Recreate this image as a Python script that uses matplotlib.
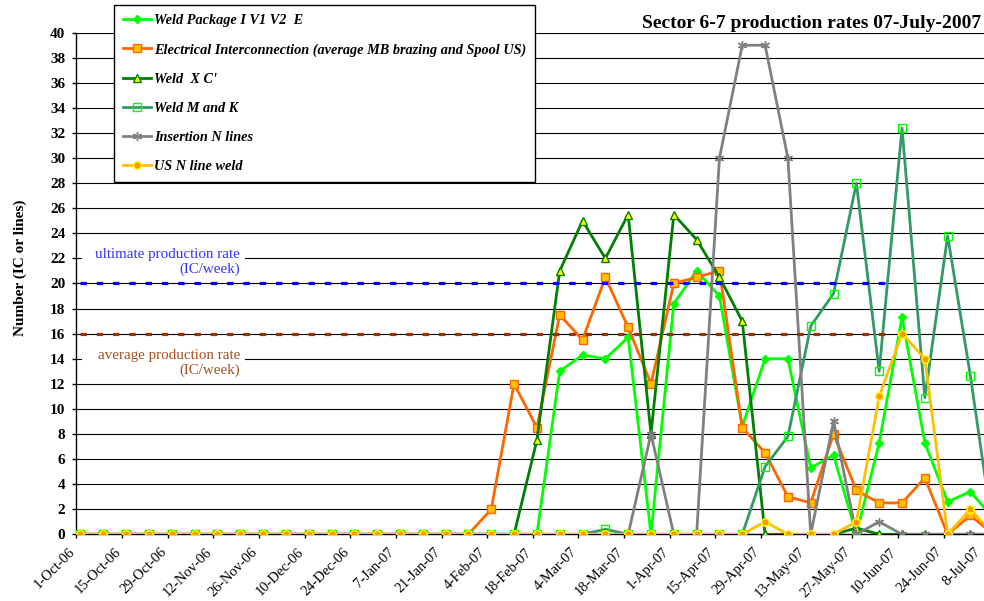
import matplotlib
matplotlib.use('Agg')
import matplotlib.pyplot as plt
import matplotlib.transforms as mtransforms
from matplotlib.patches import Rectangle

# ---------------- data ----------------
weeks = list(range(41))  # weekly points starting 1-Oct-06
tick_weeks = [0, 2, 4, 6, 8, 10, 12, 14, 16, 18, 20, 22, 24, 26, 28, 30, 32, 34, 36, 38, 40]
tick_labels = ['1-Oct-06', '15-Oct-06', '29-Oct-06', '12-Nov-06', '26-Nov-06', '10-Dec-06',
               '24-Dec-06', '7-Jan-07', '21-Jan-07', '4-Feb-07', '18-Feb-07', '4-Mar-07',
               '18-Mar-07', '1-Apr-07', '15-Apr-07', '29-Apr-07', '13-May-07', '27-May-07',
               '10-Jun-07', '24-Jun-07', '8-Jul-07']

weld_pkg = [0, 0, 0, 0, 0, 0, 0, 0, 0, 0, 0, 0, 0, 0, 0, 0, 0, 0, 0, 0, 0,
            13.0, 14.3, 14.0, 15.7, 0, 18.4, 21.0, 19.0, 8.6, 14.0, 14.0, 5.3, 6.3, 0,
            7.3, 17.3, 7.3, 2.6, 3.4, 1.3]
electrical = [0, 0, 0, 0, 0, 0, 0, 0, 0, 0, 0, 0, 0, 0, 0, 0, 0, 0,
              2, 12, 8.5, 17.5, 15.5, 20.5, 16.5, 12, 20, 20.5, 21, 8.5, 6.5, 3, 2.5, 8,
              3.5, 2.5, 2.5, 4.5, 0, 1.5, 0]
weld_xc = [0, 0, 0, 0, 0, 0, 0, 0, 0, 0, 0, 0, 0, 0, 0, 0, 0, 0, 0, 0,
           7.5, 21, 25, 22, 25.5, 8, 25.5, 23.5, 20.5, 17, 0, 0, 0, 0, 0.5, 0, 0, 0, 0, 0, 0]
weld_mk = [0, 0, 0, 0, 0, 0, 0, 0, 0, 0, 0, 0, 0, 0, 0, 0, 0, 0, 0, 0, 0, 0, 0,
           0.4, 0, 0, 0, 0, 0, 0, 5.4, 7.8, 16.6, 19.2, 28, 13, 32.4, 10.9, 23.8, 12.6, 0]
insertion = [0, 0, 0, 0, 0, 0, 0, 0, 0, 0, 0, 0, 0, 0, 0, 0, 0, 0, 0, 0, 0, 0, 0, 0, 0,
             8, 0, 0, 30, 39, 39, 30, 0, 9, 0, 1, 0, 0, 0, 0, 0]
us_n_weld = [0, 0, 0, 0, 0, 0, 0, 0, 0, 0, 0, 0, 0, 0, 0, 0, 0, 0, 0, 0, 0, 0, 0, 0, 0,
             0, 0, 0, 0, 0, 1, 0, 0, 0, 1, 11, 16, 14, 0, 2, 0]

ultimate_rate = 20
average_rate = 16

series_names = ['Weld Package I V1 V2  E',
                'Electrical Interconnection (average MB brazing and Spool US)',
                "Weld  X C'",
                'Weld M and K',
                'Insertion N lines',
                'US N line weld']

# ---------------- style ----------------
SERIF = 'Liberation Serif'
plt.rcParams['font.family'] = [SERIF, 'DejaVu Serif']

styles = [
    dict(color='#00FF00', marker='D', mfc='#00FF00', mec='#00FF00', ms=4.5),
    dict(color='#FF6600', marker='s', mfc='#FFC000', mec='#FF6600', ms=5.5),
    dict(color='#008000', marker='^', mfc='#FFFF00', mec='#008000', ms=5.5),
    dict(color='#339966', marker='s', mfc='none', mec='#00FF00', ms=5.5),
    dict(color='#808080', marker=(6, 2, 0), mfc='#808080', mec='#808080', ms=6.5),
    dict(color='#FFC000', marker='o', mfc='#FF9900', mec='#FFFF00', ms=5.5),
]
data = [weld_pkg, electrical, weld_xc, weld_mk, insertion, us_n_weld]

W, H = 984, 601
fig = plt.figure(figsize=(W / 100, H / 100), dpi=100)
x0_px, x_right_px = 75.7, 1004.7
y0_px, ytop_px = 534.3, 32.7
ax = fig.add_axes([x0_px / W, (H - y0_px) / H, (x_right_px - x0_px) / W, (y0_px - ytop_px) / H])
ax.set_xlim(-0.21, 40.5)
ax.set_ylim(0, 40)

ax.set_yticks(range(0, 41, 2))
ax.yaxis.grid(True, color='black', lw=0.8)
ax.set_axisbelow(True)
ax.tick_params(axis='y', direction='out', length=3, width=1, pad=4.5, labelsize=11)
for t in ax.get_yticklabels():
    t.set_fontweight('bold')

ax.set_xticks([w - 0.18 for w in tick_weeks])
ax.set_xticklabels(tick_labels, rotation=45, ha='right', va='top', rotation_mode='anchor',
                   fontsize=10.4)
ax.tick_params(axis='x', direction='out', length=3, width=1, pad=5)
xlabels = ax.get_xticklabels()
for k, lab in enumerate(xlabels):
    dx = -8 if k < len(xlabels) - 1 else -15   # keep the last label inside the picture
    lab.set_transform(lab.get_transform() +
                      mtransforms.ScaledTranslation(dx / 100, 0, fig.dpi_scale_trans))

for s in ['top', 'right']:
    ax.spines[s].set_visible(False)
ax.spines['left'].set_linewidth(1)
ax.spines['bottom'].set_linewidth(1)

handles = []
for vals, st, name in zip(data, styles, series_names):
    h, = ax.plot(weeks, vals, lw=2.0, mew=1.0, label=name, clip_on=True, zorder=3, **st)
    handles.append(h)

# reference rate lines
rate_end = 35.65
ax.plot([0, rate_end], [ultimate_rate, ultimate_rate], color='#0000FF', lw=2.3,
        ls=(0, (2, 3.1)), zorder=5, dash_capstyle='butt')
ax.plot([0, rate_end], [average_rate, average_rate], color='#993300', lw=2.3,
        ls=(0, (2, 3.1)), zorder=5, dash_capstyle='butt')

# text labels with white backgrounds
ax.add_patch(Rectangle((0.05, 20.5), 7.15, 2.95, facecolor='white', edgecolor='none', zorder=1.5))
ax.add_patch(Rectangle((0.05, 12.4), 7.15, 2.95, facecolor='white', edgecolor='none', zorder=1.5))
ax.text(7.0, 21.73, 'ultimate production rate\n(IC/week)', ha='right', va='center',
        multialignment='right', color='#3333FF', fontsize=10.8, linespacing=1.2, zorder=2)
ax.text(7.0, 13.65, 'average production rate\n(IC/week)', ha='right', va='center',
        multialignment='right', color='#A5501F', fontsize=10.8, linespacing=1.2, zorder=2)

ax.set_ylabel('Number (IC or lines)', fontsize=11, fontweight='bold')
ax.yaxis.set_label_coords(-(x0_px - 27) / (x_right_px - x0_px), (y0_px - 268) / (y0_px - ytop_px))

fig.text(981.5 / W, 1 - 23 / H, 'Sector 6-7 production rates 07-July-2007', ha='right',
         va='center', fontsize=14, fontweight='bold')

leg = fig.legend(handles, series_names, loc='upper left', bbox_to_anchor=(114 / W, 1 - 5 / H),
                 frameon=True, fancybox=False, edgecolor='black', framealpha=1,
                 prop=dict(family=SERIF, weight='bold', style='italic', size=10.3),
                 handlelength=1.95, handletextpad=0.25, labelspacing=1.13, borderpad=0.62,
                 borderaxespad=0, numpoints=1)
leg.get_frame().set_linewidth(1)

fig.savefig('out.png', dpi=100)
